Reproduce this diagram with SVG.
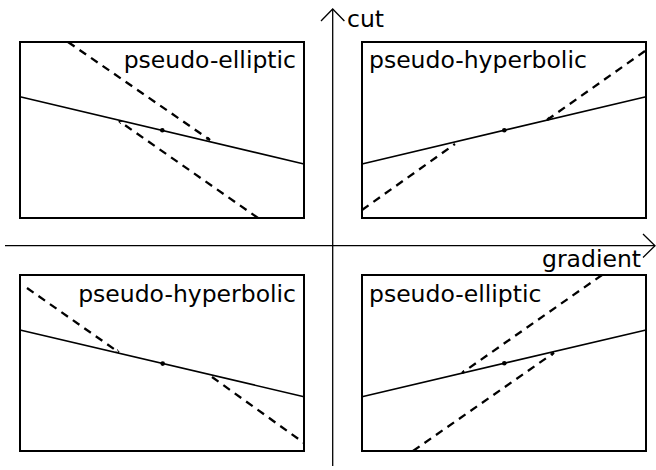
<svg xmlns="http://www.w3.org/2000/svg" width="656" height="470" viewBox="0 0 656 470">
<style>
.box{fill:none;stroke:#000;stroke-width:2}
.sol{stroke:#000;stroke-width:1.6;fill:none}
.dsh{stroke:#000;stroke-width:2.3;stroke-dasharray:8,6;fill:none}
.ax{stroke:#000;stroke-width:1.3;fill:none}
.dot{fill:#000}
text{font-family:"DejaVu Sans",Verdana,sans-serif;font-size:23.5px;fill:#000}
</style>
<defs>
<marker id="ah" viewBox="0 0 10 10" refX="9" refY="5" markerWidth="4" markerHeight="4" orient="auto" markerUnits="userSpaceOnUse">
<path d="M1,1 L9,5 L1,9" fill="none" stroke="#000" stroke-width="2"/>
</marker>
</defs>
<g id="axes">
<line class="ax" x1="5" y1="245.7" x2="655" y2="245.7"/>
<polyline class="ax" points="643,234 655,245.7 643,257.5"/>
<line class="ax" x1="332.7" y1="466" x2="332.7" y2="9"/>
<polyline class="ax" points="321,21 332.7,9 344.4,21"/>
<text x="347" y="27">cut</text>
<text x="542" y="267">gradient</text>
</g>
<g id="q1">
<rect class="box" x="20" y="42" width="284" height="176"/>
<text x="296" y="68" text-anchor="end">pseudo-elliptic</text>
<line class="sol" x1="20" y1="96.7" x2="304" y2="164"/>
<circle class="dot" cx="162.3" cy="130.3" r="2.3"/>
</g>
<g id="q2">
<rect class="box" x="362" y="42" width="284" height="176"/>
<text x="369" y="68">pseudo-hyperbolic</text>
<line class="sol" x1="362" y1="164" x2="646" y2="96.7"/>
<circle class="dot" cx="504.3" cy="130.3" r="2.3"/>
</g>
<g id="q3">
<rect class="box" x="20" y="275" width="284" height="176"/>
<text x="296" y="302" text-anchor="end">pseudo-hyperbolic</text>
<line class="sol" x1="20" y1="330" x2="304" y2="396.7"/>
<circle class="dot" cx="162.7" cy="363.6" r="2.3"/>
</g>
<g id="q4">
<rect class="box" x="362" y="275" width="284" height="176"/>
<text x="369" y="302">pseudo-elliptic</text>
<line class="sol" x1="362" y1="396.7" x2="646" y2="330"/>
<circle class="dot" cx="504.3" cy="363.3" r="2.3"/>
</g>
<g id="connectors">
<line class="dsh" x1="68" y1="42" x2="210" y2="140" marker-end="url(#ah)"/>
<line class="dsh" x1="258" y1="218" x2="119" y2="121" marker-end="url(#ah)"/>
<line class="dsh" x1="362" y1="210" x2="455" y2="144"/>
<line class="dsh" x1="645" y1="51" x2="547" y2="120" marker-end="url(#ah)"/>
<line class="dsh" x1="27" y1="288" x2="119" y2="352.5" marker-end="url(#ah)"/>
<line class="dsh" x1="212" y1="377" x2="304" y2="443"/>
<line class="dsh" x1="602" y1="275" x2="462" y2="373" marker-end="url(#ah)"/>
<line class="dsh" x1="413" y1="451" x2="554" y2="352.7" marker-end="url(#ah)"/>
</g>
</svg>
